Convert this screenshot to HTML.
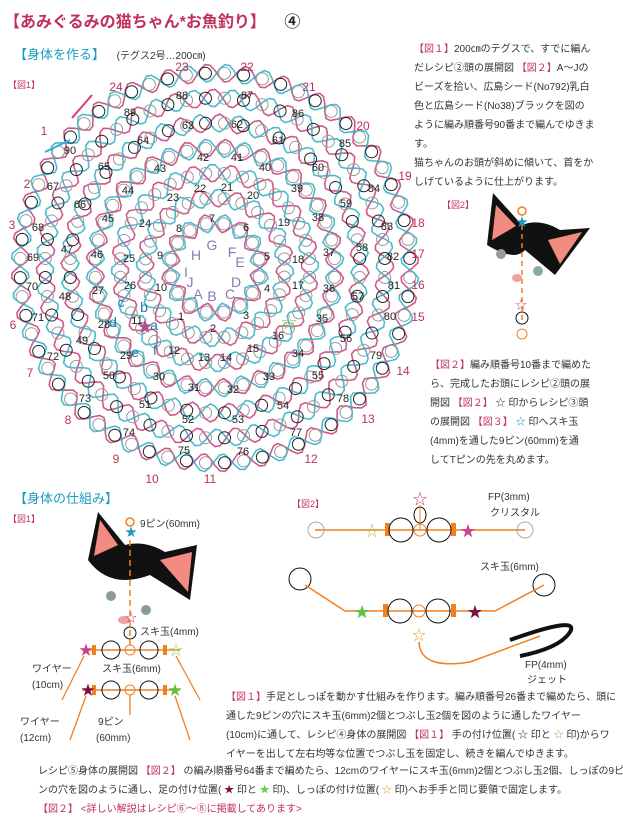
<!DOCTYPE html>
<html><head><meta charset="utf-8">
<style>
body{margin:0;background:#fff;}
#w{position:relative;width:623px;height:820px;overflow:hidden;font-family:"Liberation Sans","Noto Sans CJK JP",sans-serif;}
.t{position:absolute;white-space:nowrap;}
.p{position:absolute;font-size:10px;line-height:19px;color:#333;white-space:nowrap;}
.r{color:#c0305a;}
svg text{font-family:"Liberation Sans","Noto Sans CJK JP",sans-serif;}
</style></head><body><div id="w">
<div class="t" style="left:4px;top:8px;font-size:16px;color:#c0305a;font-weight:bold;">【あみぐるみの猫ちゃん*お魚釣り】 <span style="color:#222;margin-left:14px">④</span></div>
<div class="t" style="left:14px;top:44px;font-size:13px;color:#1a9bc0;">【身体を作る】 <span style="color:#333;font-size:10px;margin-left:8px">(テグス2号…200㎝)</span></div>
<div class="t" style="left:8px;top:78px;font-size:9px;color:#c0305a;">【図1】</div>
<div class="p" style="left:414px;top:40px;"><span class="r">【図１】</span>200㎝のテグスで、すでに編ん<br>だレシピ②頭の展開図 <span class="r">【図２】</span>A～Jの<br>ビーズを拾い、広島シード(No792)乳白<br>色と広島シード(No38)ブラックを図の<br>ように編み順番号90番まで編んでゆきま<br>す。<br>猫ちゃんのお頭が斜めに傾いて、首をか<br>しげているように仕上がります。</div>
<div class="t" style="left:442px;top:198px;font-size:9px;color:#c0305a;">【図2】</div>
<div class="p" style="left:430px;top:356px;"><span class="r">【図２】</span>編み順番号10番まで編めた<br>ら、完成したお頭にレシピ②頭の展<br>開図 <span class="r">【図２】</span> ☆ 印からレシピ③頭<br>の展開図 <span class="r">【図３】</span> <span style="color:#1a9bc0">☆</span> 印へスキ玉<br>(4mm)を通した9ピン(60mm)を通<br>してTピンの先を丸めます。</div>
<div class="t" style="left:14px;top:488px;font-size:13px;color:#1a9bc0;">【身体の仕組み】</div>
<div class="t" style="left:8px;top:512px;font-size:9px;color:#c0305a;">【図1】</div>
<div class="t" style="left:292px;top:497px;font-size:9px;color:#c0305a;">【図2】</div>
<svg id="g" width="623" height="820" style="position:absolute;left:0;top:0">
<g id="rings" fill="none" stroke-width="1.6"></g>
<g id="nums" font-size="11" fill="#222" text-anchor="middle"></g>
<g>
<path d="M98,512 L88,560 Q110,590 150,575 L190,600 L197,545 L165,552 Q145,540 125,545 Z" fill="#111"/>
<path d="M100,520 L94,556 L118,545 Z" fill="#f28c80"/>
<path d="M192,552 L188,592 L160,560 Z" fill="#f28c80"/>
<circle cx="111" cy="596" r="5" fill="#8a9aa0"/><circle cx="146" cy="610" r="5" fill="#8a9aa0"/>
<ellipse cx="124" cy="620" rx="6" ry="4" fill="#f0a0a0"/>
<circle cx="130" cy="522" r="4" fill="none" stroke="#f08020" stroke-width="1.5"/>
<line x1="130" y1="530" x2="130" y2="645" stroke="#f08020" stroke-width="1.5" stroke-dasharray="6,4"/>
<text x="131" y="536" font-size="12" fill="#1a9bc0" text-anchor="middle">★</text>
<text x="131" y="622" font-size="12" fill="#d04070" text-anchor="middle">☆</text>
<circle cx="130" cy="633" r="6" fill="none" stroke="#111"/>
<line x1="82" y1="650" x2="180" y2="650" stroke="#f08020" stroke-width="1.5"/>
<rect x="92" y="645" width="4" height="10" fill="#f08020"/><rect x="163" y="645" width="4" height="10" fill="#f08020"/>
<circle cx="111" cy="650" r="9" fill="none" stroke="#111"/><circle cx="130" cy="650" r="5" fill="none" stroke="#f08020"/><circle cx="149" cy="650" r="9" fill="none" stroke="#111"/>
<line x1="82" y1="690" x2="180" y2="690" stroke="#f08020" stroke-width="1.5"/>
<rect x="92" y="685" width="4" height="10" fill="#f08020"/><rect x="163" y="685" width="4" height="10" fill="#f08020"/>
<circle cx="111" cy="690" r="9" fill="none" stroke="#111"/><circle cx="130" cy="690" r="5" fill="none" stroke="#f08020"/><circle cx="149" cy="690" r="9" fill="none" stroke="#111"/>
<text x="86" y="655" font-size="14" fill="#d04080" text-anchor="middle">★</text>
<text x="176" y="655" font-size="14" fill="#8fd060" text-anchor="middle">☆</text>
<text x="88" y="695" font-size="14" fill="#801040" text-anchor="middle">★</text>
<text x="175" y="695" font-size="14" fill="#60c040" text-anchor="middle">★</text>
<line x1="84" y1="656" x2="62" y2="700" stroke="#f08020" stroke-width="1.3"/>
<line x1="176" y1="656" x2="200" y2="700" stroke="#f08020" stroke-width="1.3"/>
<line x1="86" y1="696" x2="70" y2="740" stroke="#f08020" stroke-width="1.3"/>
<line x1="175" y1="696" x2="190" y2="740" stroke="#f08020" stroke-width="1.3"/>
<line x1="130" y1="695" x2="130" y2="715" stroke="#f08020" stroke-width="1.3"/>
<text x="140" y="527" font-size="10" fill="#333">9ピン(60mm)</text>
<text x="140" y="635" font-size="10" fill="#333">スキ玉(4mm)</text>
<text x="102" y="672" font-size="10" fill="#333">スキ玉(6mm)</text>
<text x="32" y="672" font-size="10" fill="#333">ワイヤー</text>
<text x="32" y="688" font-size="10" fill="#333">(10cm)</text>
<text x="20" y="725" font-size="10" fill="#333">ワイヤー</text>
<text x="20" y="741" font-size="10" fill="#333">(12cm)</text>
<text x="98" y="725" font-size="10" fill="#333">9ピン</text>
<text x="96" y="741" font-size="10" fill="#333">(60mm)</text>
</g>
<g>
<path d="M493,193 L487,245 Q515,262 525,250 L555,275 L590,228 L560,230 Q540,218 522,225 Z" fill="#111"/>
<path d="M496,205 L492,240 L516,226 Z" fill="#f28c80"/>
<path d="M582,232 L560,264 L548,240 Z" fill="#f28c80"/>
<circle cx="501" cy="254" r="5" fill="#999"/><circle cx="538" cy="271" r="5" fill="#8aa"/>
<ellipse cx="517" cy="278" rx="5" ry="4" fill="#f0a0a0"/>
<circle cx="522" cy="211" r="4" fill="none" stroke="#f08020" stroke-width="1.5"/>
<line x1="522" y1="225" x2="522" y2="320" stroke="#f08020" stroke-width="1.5" stroke-dasharray="5,4"/>
<text x="522" y="226" font-size="12" fill="#1a9bc0" text-anchor="middle">★</text>
<text x="521" y="309" font-size="12" fill="#d04070" text-anchor="middle">☆</text>
<circle cx="522" cy="318" r="6" fill="none" stroke="#111"/>
<circle cx="522" cy="334" r="5" fill="none" stroke="#f08020"/>
</g>
<g>
<line x1="315" y1="530" x2="525" y2="530" stroke="#f08020" stroke-width="1.5"/>
<circle cx="316" cy="530" r="8" fill="none" stroke="#aaa"/><circle cx="525" cy="530" r="8" fill="none" stroke="#aaa"/>
<rect x="385" y="523" width="5" height="13" fill="#f08020"/><rect x="451" y="523" width="5" height="13" fill="#f08020"/>
<circle cx="401" cy="530" r="12" fill="none" stroke="#111"/><circle cx="420" cy="530" r="6" fill="none" stroke="#f08020"/><circle cx="439" cy="530" r="12" fill="none" stroke="#111"/>
<ellipse cx="420" cy="515" rx="6" ry="8" fill="none" stroke="#111"/>
<line x1="420" y1="505" x2="420" y2="530" stroke="#f08020"/>
<text x="420" y="504" font-size="15" fill="#d04070" text-anchor="middle">☆</text>
<text x="372" y="536" font-size="15" fill="#9ad060" text-anchor="middle">☆</text>
<text x="468" y="536" font-size="15" fill="#d04090" text-anchor="middle">★</text>
<text x="488" y="500" font-size="10" fill="#333">FP(3mm)</text>
<text x="490" y="516" font-size="10" fill="#333">クリスタル</text>
<text x="480" y="570" font-size="10" fill="#333">スキ玉(6mm)</text>
<circle cx="300" cy="579" r="11" fill="none" stroke="#111"/><circle cx="544" cy="585" r="11" fill="none" stroke="#111"/>
<polyline points="305,585 345,611 495,611 544,585" fill="none" stroke="#f08020" stroke-width="1.5"/>
<rect x="383" y="604" width="5" height="13" fill="#f08020"/><rect x="451" y="604" width="5" height="13" fill="#f08020"/>
<circle cx="400" cy="611" r="12" fill="none" stroke="#111"/><circle cx="419" cy="611" r="6" fill="none" stroke="#f08020"/><circle cx="438" cy="611" r="12" fill="none" stroke="#111"/>
<text x="362" y="617" font-size="15" fill="#60c040" text-anchor="middle">★</text>
<text x="475" y="617" font-size="15" fill="#801040" text-anchor="middle">★</text>
<text x="419" y="640" font-size="14" fill="#f0a020" text-anchor="middle">☆</text>
<path d="M419,642 Q420,670 470,662 L540,636" fill="none" stroke="#f08020" stroke-width="1.5"/>
<path d="M510,640 Q580,615 570,632 Q560,648 520,656" fill="none" stroke="#111" stroke-width="4"/>
<text x="525" y="668" font-size="10" fill="#333">FP(4mm)</text>
<text x="527" y="683" font-size="10" fill="#333">ジェット</text>
</g>
</svg>
<div class="p" style="left:226px;top:688px;"><span class="r">【図１】</span>手足としっぽを動かす仕組みを作ります。編み順番号26番まで編めたら、頭に<br>通した9ピンの穴にスキ玉(6mm)2個とつぶし玉2個を図のように通したワイヤー<br>(10cm)に通して、レシピ④身体の展開図 <span class="r">【図１】</span> 手の付け位置( ☆ 印と <span style="color:#6c4">☆</span> 印)からワ<br>イヤーを出して左右均等な位置でつぶし玉を固定し、続きを編んでゆきます。</div>
<div class="p" style="left:38px;top:762px;">レシピ⑤身体の展開図 <span class="r">【図２】</span> の編み順番号64番まで編めたら、12cmのワイヤーにスキ玉(6mm)2個とつぶし玉2個、しっぽの9ピ<br>ンの穴を図のように通し、足の付け位置( <span style="color:#801040">★</span> 印と <span style="color:#6c4">★</span> 印)、しっぽの付け位置( <span style="color:#e0a030">☆</span> 印)へお手手と同じ要領で固定します。<br><span class="r">【図２】 &lt;詳しい解説はレシピ⑥～⑧に掲載してあります&gt;</span></div>
<script>
var NS="http://www.w3.org/2000/svg",cx=215,cy=268;
var R=document.getElementById('rings');
function el(t,a,p){var e=document.createElementNS(NS,t);for(var k in a)e.setAttribute(k,a[k]);p.appendChild(e);return e;}
var radii=[45,70,95,120,145,170,195];
radii.forEach(function(r,i){
 ['#c83c78','#2ab0c8'].forEach(function(col,j){
  var n=8+i*4,pts=[];
  for(var k=0;k<=n*8;k++){var a=k/(n*8)*Math.PI*2;var rr=r+(j?1:-1)*9*Math.sin(a*n+i);pts.push((cx+rr*Math.cos(a)).toFixed(1)+','+(cy+rr*Math.sin(a)).toFixed(1));}
  el('polyline',{points:pts.join(' '),stroke:col,'stroke-opacity':0.85},R);
 });
 var n=8+i*4;
 for(var k=0;k<n*2;k++){var a=(k+0.5)/(n*2)*Math.PI*2;el('circle',{cx:cx+r*Math.cos(a),cy:cy+r*Math.sin(a),r:6,stroke:(i>3&&k%2?'#222':'#999'),'stroke-width':1,fill:'none'},R);}
});
var N=document.getElementById('nums');
var d="89,130,112 88,182,95 87,247,95 86,298,113 90,70,150 64,143,140 63,188,125 62,237,124 61,278,140 85,345,143 65,104,166 43,160,168 42,203,157 41,237,157 40,265,167 60,318,167 67,53,186 66,80,204 44,128,190 23,173,197 22,200,188 21,227,187 20,253,195 39,297,188 84,374,188 59,346,203 68,38,227 45,108,218 24,145,223 8,179,228 7,212,218 6,246,227 19,284,222 38,318,217 83,387,226 69,33,257 47,67,249 46,97,254 25,129,258 9,160,255 5,267,256 18,298,259 37,329,252 58,362,247 82,393,256 70,32,286 48,65,296 27,98,290 26,130,285 10,161,287 4,267,288 17,298,285 36,329,288 57,358,296 81,394,285 71,38,317 28,104,324 11,137,320 1,181,316 3,246,315 35,322,318 80,390,316 2,213,328 16,278,335 56,346,338 49,82,340 29,126,355 12,174,350 13,204,357 15,253,348 14,226,357 34,298,353 79,376,355 72,53,356 50,109,375 30,159,376 31,194,387 33,269,376 55,318,375 32,233,389 73,85,398 51,145,404 52,188,419 54,283,405 78,343,398 74,129,432 75,184,450 53,238,419 77,296,432 76,243,451".split(' ');
d.forEach(function(s){var p=s.split(',');var t=el('text',{x:p[1],y:+p[2]+4},N);t.textContent=p[0];});
var o="23,182,66 22,247,66 21,309,86 20,363,125 19,405,175 18,418,222 17,418,253 16,418,284 15,418,316 14,403,370 13,368,418 12,311,458 11,210,478 10,152,478 9,116,458 8,68,419 7,30,372 6,13,324 3,12,224 2,27,183 1,44,130 24,116,86".split(' ');
o.forEach(function(s){var p=s.split(',');var t=el('text',{x:p[1],y:+p[2]+5,fill:'#c0305a','font-size':12},N);t.textContent=p[0];});
var L="H,196,255,#8a7ab0 G,212,245,#8a7ab0 I,186,272,#8a7ab0 J,190,282,#8a7ab0 A,198,294,#8a7ab0 B,212,296,#8a7ab0 F,232,252,#8a7ab0 E,240,262,#8a7ab0 D,236,282,#8a7ab0 C,230,294,#8a7ab0 c,121,302,#1a7ab0 b,144,307,#1a7ab0 a,154,325,#1a7ab0 d,113,322,#1a7ab0 e,135,352,#1a7ab0 f,155,350,#1a7ab0".split(' ');
L.forEach(function(s){var p=s.split(',');var t=el('text',{x:p[1],y:+p[2]+5,fill:p[3],'font-size':14},N);t.textContent=p[0];});
var s1=el('text',{x:145,y:332,fill:'#b05090','font-size':16},N);s1.textContent='★';
var s2=el('text',{x:289,y:328,fill:'#8c6','font-size':16},N);s2.textContent='☆';
el('path',{d:'M72,118 L92,95',stroke:'#e0307a','stroke-width':2},N);
el('path',{d:'M70,140 L45,152',stroke:'#2ab0e0','stroke-width':2},N);
</script>
</div></body></html>
